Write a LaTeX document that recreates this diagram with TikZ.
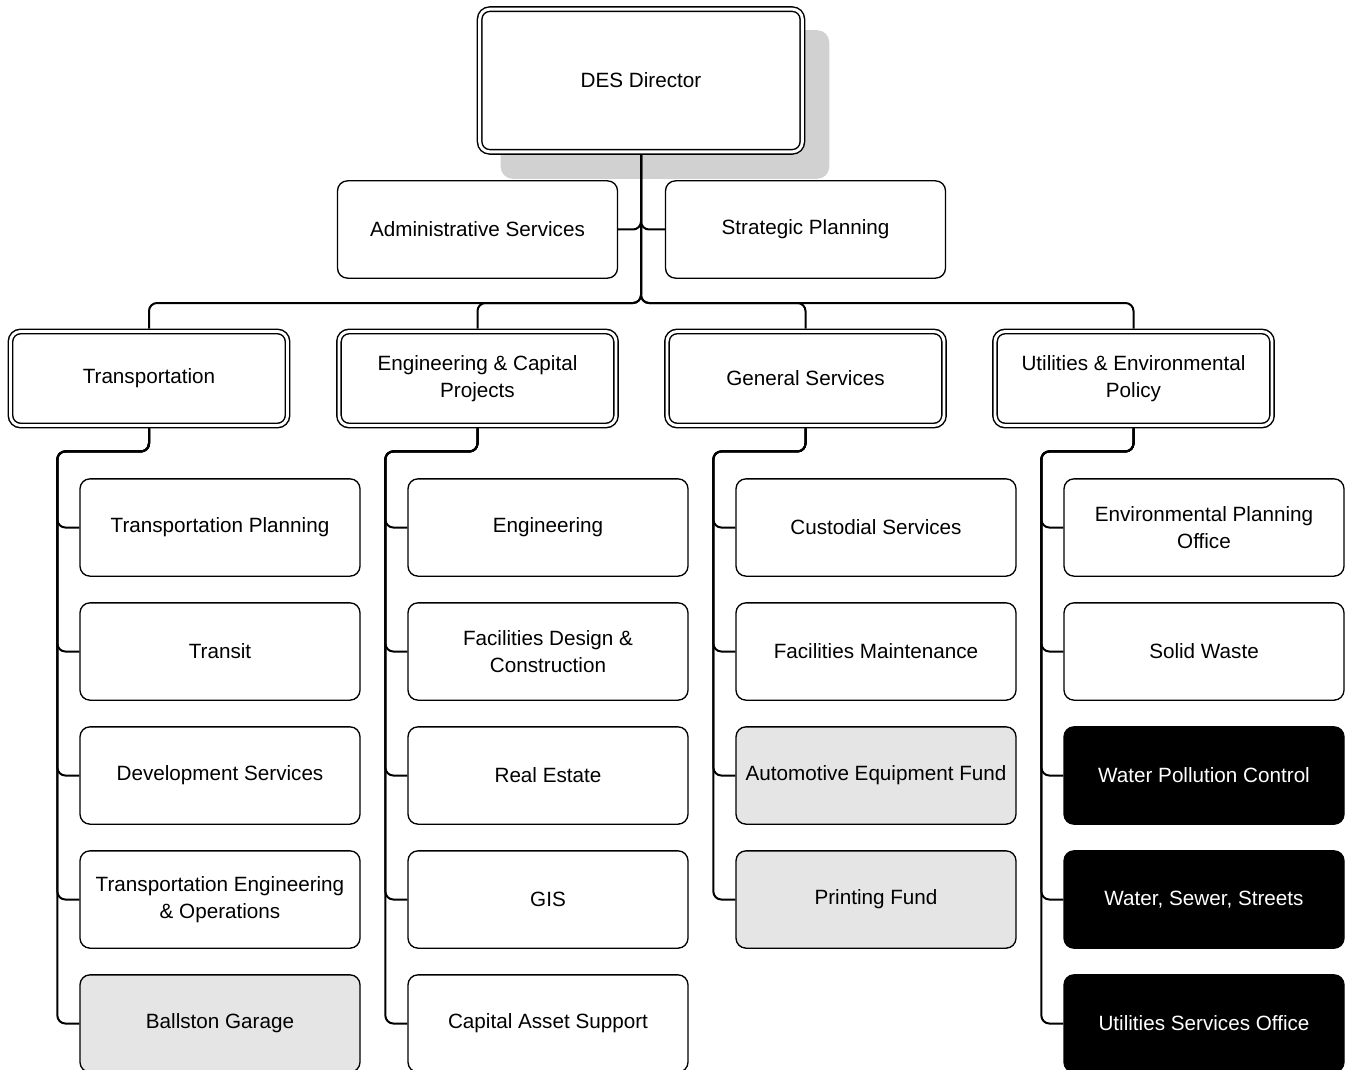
\documentclass[tikz,border=0pt]{standalone}
\usepackage{fontspec}
\setmainfont{Liberation Sans}
\usetikzlibrary{backgrounds}
\newcommand{\boxfont}{\fontsize{15.5}{20}\selectfont}
\definecolor{shadowgray}{gray}{0.82}
\definecolor{fundgray}{gray}{0.90}
\tikzset{
	box/.style={draw,line width=1pt,rounded corners=7.5pt,fill=white,minimum width=210pt,minimum height=73pt,inner sep=2pt,align=center,font=\boxfont},
	head/.style={box,double,double distance=2.2pt,line width=1.1pt,minimum width=207.75pt,minimum height=70.5pt,outer sep=2.2pt},
	fund/.style={box,fill=fundgray},
	dark/.style={box,fill=black,text=white},
	link/.style={line width=1.5pt,rounded corners=6pt}
}
\begin{document}
\begin{tikzpicture}[x=0.75pt,y=-0.75pt]
	\useasboundingbox (0,0) rectangle (1350,1070);
	\clip (0,0) rectangle (1350,1070);
	% top
	\node[head,minimum width=242pt,minimum height=107pt] (dir) at (641,80.5) {DES Director};
	\node[box] (adm) at (477.5,229.5) {Administrative Services};
	\node[box] (strat) at (805.5,229.5) {Strategic Planning};
	% divisions
	\node[head] (trans) at (149,378.5) {Transportation};
	\node[head] (ecp) at (477.5,378.5) {Engineering \& Capital\\Projects};
	\node[head] (gen) at (805.5,378.5) {General Services};
	\node[head] (uep) at (1133.5,378.5) {Utilities \& Environmental\\Policy};
	% transportation
	\node[box] (t1) at (220,527.5) {Transportation Planning};
	\node[box] (t2) at (220,651.5) {Transit};
	\node[box] (t3) at (220,775.5) {Development Services};
	\node[box] (t4) at (220,899.5) {Transportation Engineering\\\& Operations};
	\node[fund] (t5) at (220,1023.5) {Ballston Garage};
	% engineering & capital projects
	\node[box] (e1) at (548,527.5) {Engineering};
	\node[box] (e2) at (548,651.5) {Facilities Design \&\\Construction};
	\node[box] (e3) at (548,775.5) {Real Estate};
	\node[box] (e4) at (548,899.5) {GIS};
	\node[box] (e5) at (548,1023.5) {Capital Asset Support};
	% general services
	\node[box] (g1) at (876,527.5) {Custodial Services};
	\node[box] (g2) at (876,651.5) {Facilities Maintenance};
	\node[fund] (g3) at (876,775.5) {Automotive Equipment Fund};
	\node[fund] (g4) at (876,899.5) {Printing Fund};
	% utilities & environmental policy
	\node[box] (u1) at (1204,527.5) {Environmental Planning\\Office};
	\node[box] (u2) at (1204,651.5) {Solid Waste};
	\node[dark] (u3) at (1204,775.5) {Water Pollution Control};
	\node[dark] (u4) at (1204,899.5) {Water, Sewer, Streets};
	\node[dark] (u5) at (1204,1023.5) {Utilities Services Office};
	\begin{pgfonlayer}{background}
		\fill[shadowgray,rounded corners=9pt] ([shift={(24,24)}]dir.north west) rectangle ([shift={(24,24)}]dir.south east);
	\end{pgfonlayer}
	\coordinate (bus) at (641,303);
	\draw[link] (dir.south) |- (adm.east);
	\draw[link] (dir.south) |- (strat.west);
	\foreach \d in {trans,ecp,gen,uep}
		\draw[link] (dir.south) -- (bus) -| (\d.north);
	\foreach \d/\c/\k in {trans/t/5,ecp/e/5,gen/g/4,uep/u/5}
		\foreach \i in {1,...,\k}
			\draw[link] (\d.south) -- ++(0,23) -| ([xshift=-16.5pt]\c\i.west) -- (\c\i.west);
\end{tikzpicture}
\end{document}
